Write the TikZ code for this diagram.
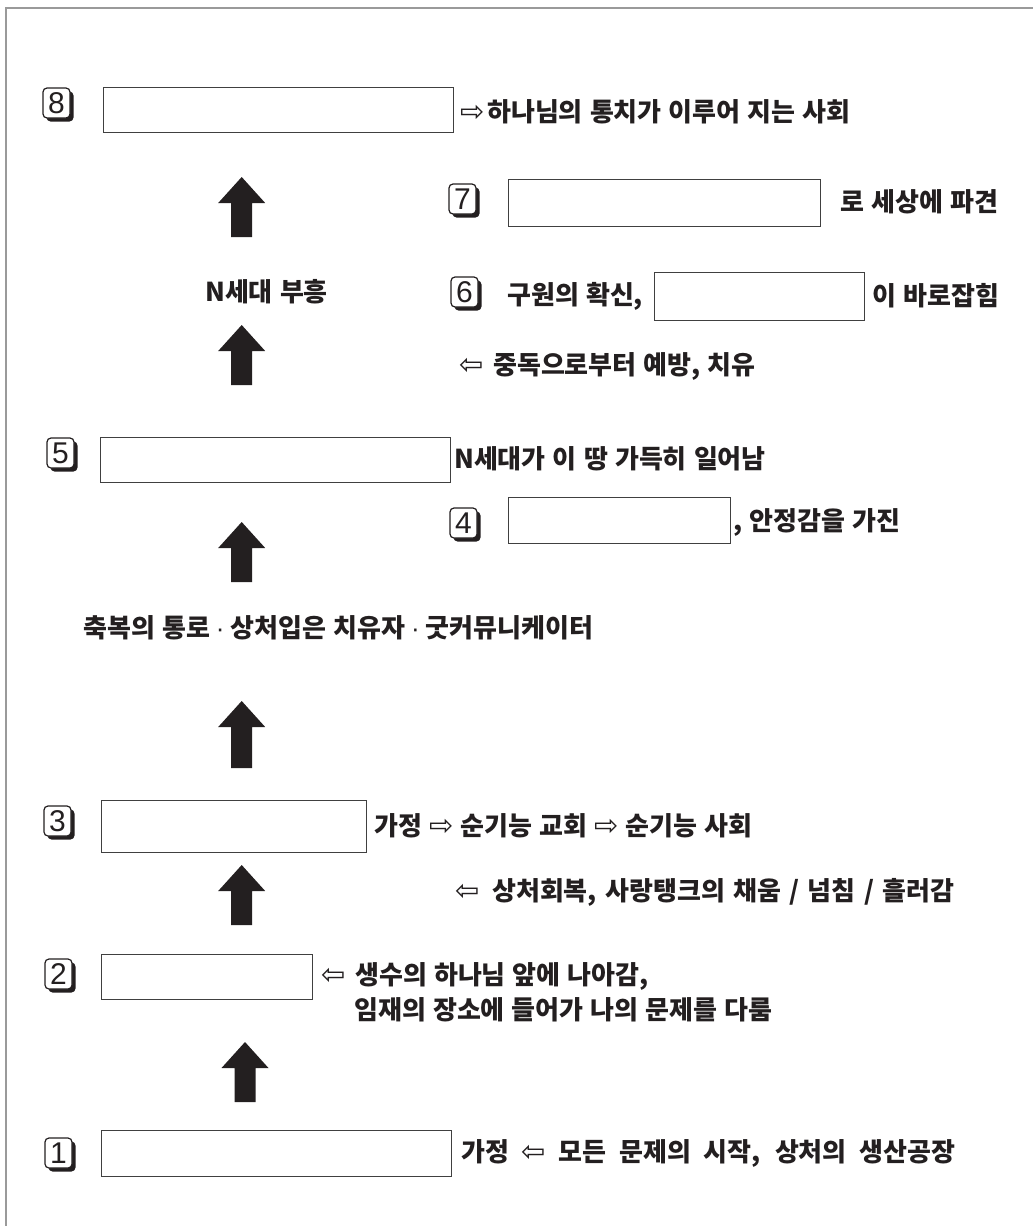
\documentclass[tikz,border=0pt]{standalone}
\usepackage{fontspec}
\setmainfont{Noto Sans CJK KR}[WordSpace=1.2]
\newfontfamily\symf{DejaVu Sans}
\newfontfamily\numf{Liberation Sans}
\definecolor{ink}{HTML}{231F20}
\definecolor{frame}{HTML}{9A9A9A}
\newcommand\harr[1]{{\symf\mdseries\fontsize{29}{29}\selectfont #1}}
\newcommand\mdot{\hspace{6pt}{\numf\mdseries ·}\hspace{6pt}}
\newcommand\fit[2]{\makebox[#1pt][s]{#2}}
\newcommand\keycap[4]{% name, x, y, number
  \fill[ink, rounded corners=4pt] ({#2+3.5},{#3+3.5}) rectangle ++(27,30);
  \draw[ink, fill=white, line width=1.2pt, rounded corners=4pt] (#2,#3) rectangle ++(27,30);
  \node[inner sep=0, text=ink, font=\numf\fontsize{30}{30}\selectfont] (#1) at ({#2+13.5},{#3+15.5}) {#4};}
\newcommand\uparr[4]{% name, cx, tip y, length
  \fill[ink] (#2,#3) -- ({#2+23.5},{#3+26}) -- ({#2+10.5},{#3+26}) -- ({#2+10.5},{#3+#4})
    -- ({#2-10.5},{#3+#4}) -- ({#2-10.5},{#3+26}) -- ({#2-23.5},{#3+26}) -- cycle;
  \coordinate (#1) at (#2,#3);}
\begin{document}
\begin{tikzpicture}[x=1pt,y=-1pt,
  txt/.style={anchor=west, inner sep=0, text=ink, font=\bfseries\fontsize{26}{30}\selectfont},
  harrow/.style={anchor=west, inner sep=0, text=ink},
  blank/.style={draw=black!75, line width=1.2pt, anchor=north west, inner sep=0, fill=white}]
\useasboundingbox (0,0) rectangle (1033,1226);
\draw[frame, line width=2pt] (6,1226) -- (6,8) -- (1033,8);

% row 8
\keycap{m8}{43}{88}{8}
\node[blank, minimum width=350, minimum height=45] (b8) at (103,87) {};
\node[harrow] (h8) at (460,113) {\harr{⇨}};
\node[txt] (t8) at (487,112) {하나님의 통치가 이루어 지는 사회};
\uparr{a1}{241.7}{177}{60}

% row 7
\keycap{m7}{449}{184}{7}
\node[blank, minimum width=312, minimum height=47] (b7) at (508,179) {};
\node[txt] (t7) at (840,202) {로 세상에 파견};

% row 6
\node[txt] (n6) at (205,292) {N세대 부흥};
\keycap{m6}{451}{277}{6}
\node[txt] (t6a) at (507,296) {구원의 확신,};
\node[blank, minimum width=210, minimum height=48] (b6) at (654,272) {};
\node[txt] (t6b) at (872,296) {이 바로잡힘};

\uparr{a2}{241.7}{325}{60}
\node[harrow] (h56) at (459,366) {\harr{⇦}};
\node[txt] (t56) at (493,366) {중독으로부터 예방, 치유};

% row 5
\keycap{m5}{47}{438}{5}
\node[blank, minimum width=350, minimum height=45] (b5) at (100,437) {};
\node[txt] (t5) at (454,459) {N세대가 이 땅 가득히 일어남};

\uparr{a3}{241.7}{522}{60}

% row 4
\keycap{m4}{450}{508}{4}
\node[blank, minimum width=222, minimum height=46] (b4) at (508,497) {};
\node[txt] (t4) at (733,522) {, 안정감을 가진};

\node[txt] (tm) at (83,628) {축복의 통로\mdot 상처입은 치유자\mdot 굿커뮤니케이터};

\uparr{a4}{241.7}{701}{67}

% row 3
\keycap{m3}{44}{806}{3}
\node[blank, minimum width=265, minimum height=52] (b3) at (101,800) {};
\node[txt] (t3) at (374,826) {가정 \harr{⇨} 순기능 교회 \harr{⇨} 순기능 사회};

\uparr{a5}{241.7}{865}{60}
\node[harrow] (h23) at (455,892) {\harr{⇦}};
\node[txt] (t23) at (492,892) {\fit{462}{상처회복, 사랑탱크의 채움 / 넘침 / 흘러감}};

% row 2
\keycap{m2}{45}{959}{2}
\node[blank, minimum width=211, minimum height=45] (b2) at (101,954) {};
\node[harrow] (h2) at (321,976) {\harr{⇦}};
\node[txt] (t2a) at (355,976) {생수의 하나님 앞에 나아감,};
\node[txt] (t2b) at (354,1010) {임재의 장소에 들어가 나의 문제를 다룸};

\uparr{a6}{245}{1042}{60}

% row 1
\keycap{m1}{45}{1138}{1}
\node[blank, minimum width=350, minimum height=46] (b1) at (101,1130) {};
\node[txt] (t1) at (461,1153) {\fit{494}{가정 \harr{⇦} 모든 문제의 시작, 상처의 생산공장}};
\end{tikzpicture}
\end{document}
